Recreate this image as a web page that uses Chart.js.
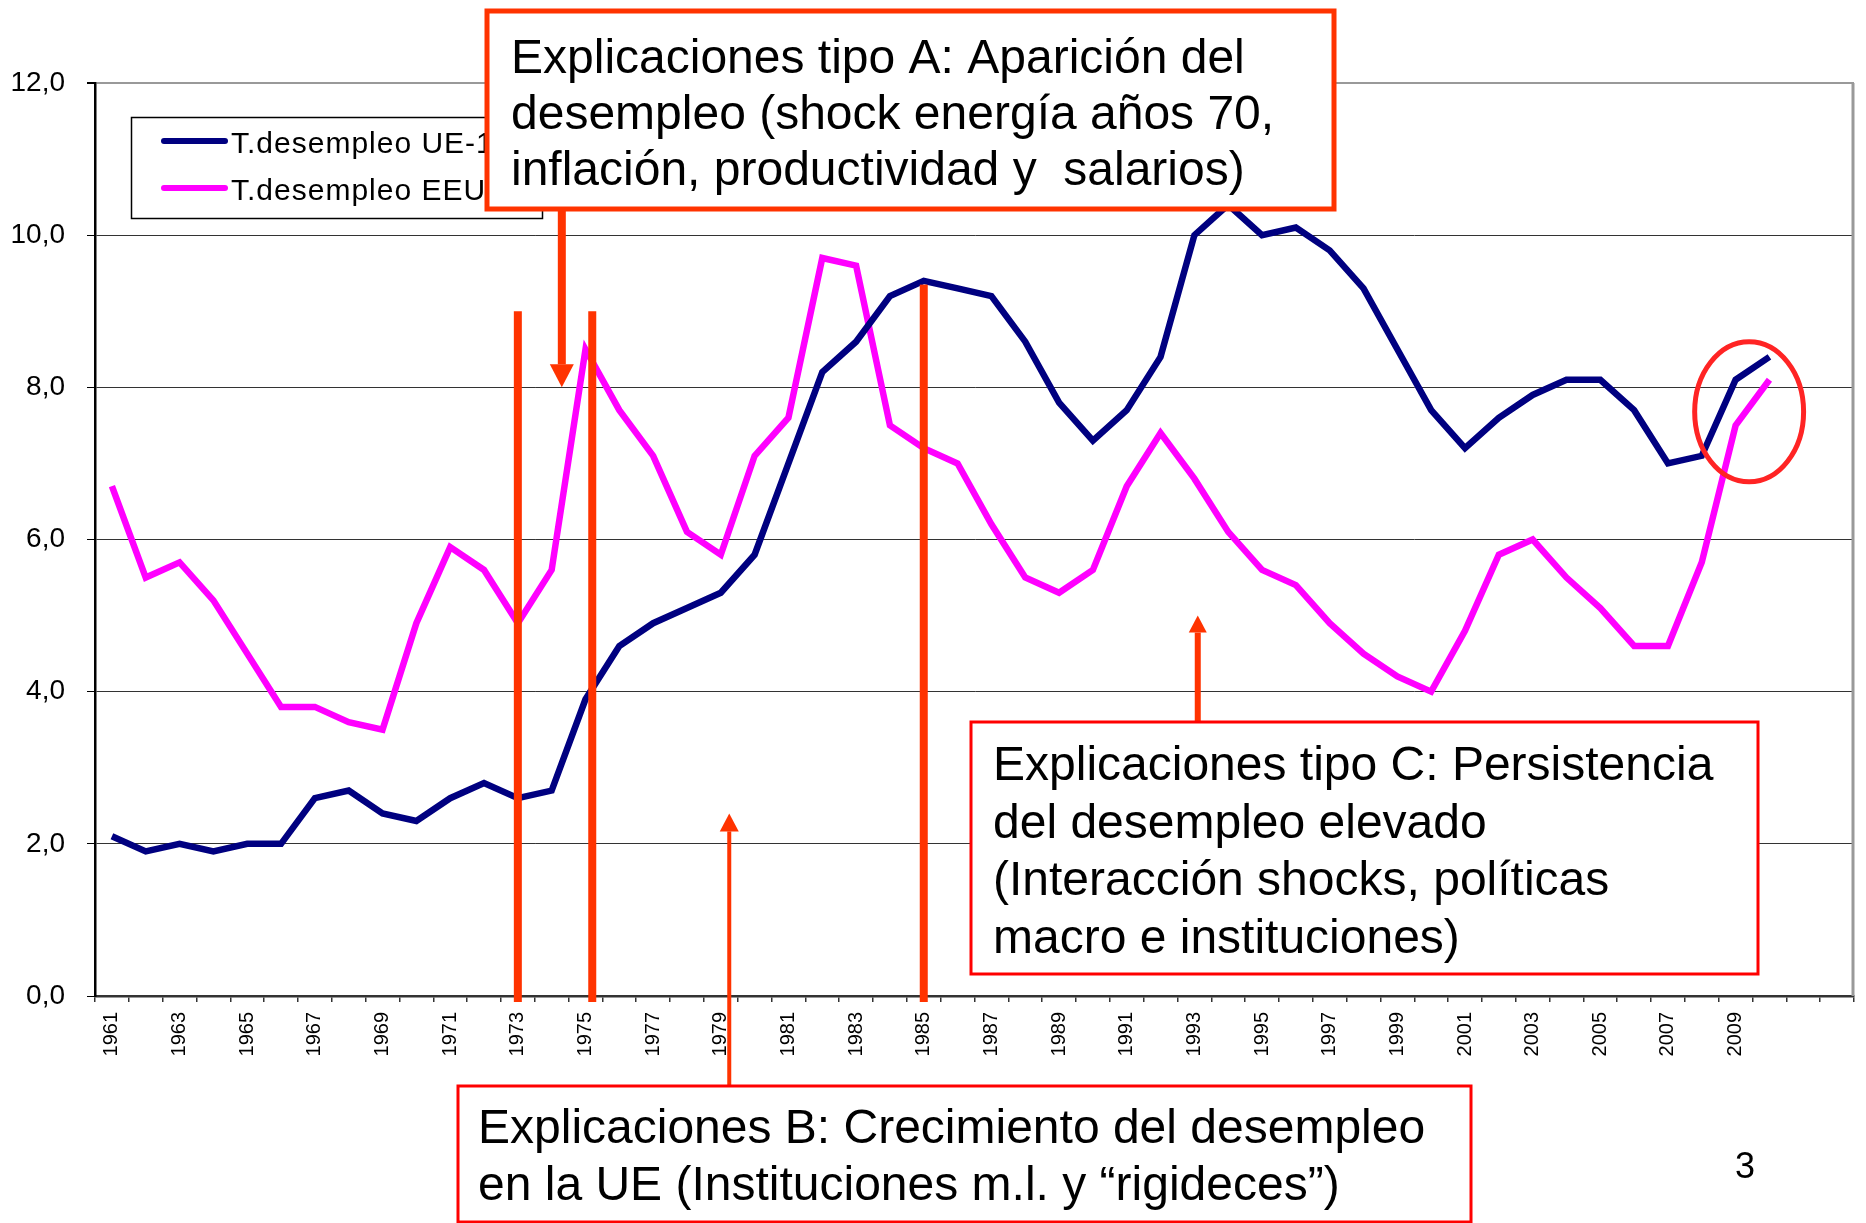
<!DOCTYPE html>
<html>
<head>
<meta charset="utf-8">
<script src="https://cdn.jsdelivr.net/npm/chart.js@4"></script>
<style>
  html, body { margin: 0; padding: 0; background: #fff; }
  canvas { display: block; }
</style>
</head>
<body>
<canvas id="paroChart" width="1866" height="1223"></canvas>
<script>
// categories (the axis runs two empty years past the data, as in the original sheet)
const years = [1961, 1962, 1963, 1964, 1965, 1966, 1967, 1968, 1969, 1970,
  1971, 1972, 1973, 1974, 1975, 1976, 1977, 1978, 1979, 1980,
  1981, 1982, 1983, 1984, 1985, 1986, 1987, 1988, 1989, 1990,
  1991, 1992, 1993, 1994, 1995, 1996, 1997, 1998, 1999, 2000,
  2001, 2002, 2003, 2004, 2005, 2006, 2007, 2008, 2009, 2010,
  2011, 2012];

// T.desempleo UE-15
const paroUE = [2.1, 1.9, 2.0, 1.9, 2.0, 2.0, 2.6, 2.7, 2.4, 2.3,
  2.6, 2.8, 2.6, 2.7, 3.9, 4.6, 4.9, 5.1, 5.3, 5.8,
  7.0, 8.2, 8.6, 9.2, 9.4, 9.3, 9.2, 8.6, 7.8, 7.3,
  7.7, 8.4, 10.0, 10.4, 10.0, 10.1, 9.8, 9.3, 8.5, 7.7,
  7.2, 7.6, 7.9, 8.1, 8.1, 7.7, 7.0, 7.1, 8.1, 8.4];

// T.desempleo EEUU
const paroEEUU = [6.7, 5.5, 5.7, 5.2, 4.5, 3.8, 3.8, 3.6, 3.5, 4.9,
  5.9, 5.6, 4.9, 5.6, 8.5, 7.7, 7.1, 6.1, 5.8, 7.1,
  7.6, 9.7, 9.6, 7.5, 7.2, 7.0, 6.2, 5.5, 5.3, 5.6,
  6.7, 7.4, 6.8, 6.1, 5.6, 5.4, 4.9, 4.5, 4.2, 4.0,
  4.8, 5.8, 6.0, 5.5, 5.1, 4.6, 4.6, 5.7, 7.5, 8.1];

const yMin = 0, yMax = 12, yStep = 2;
const lastLabelYear = 2009;

// annotations: years / values go through the scales
const markerLines = [
  { year: 1973, top: 9.0 },
  { year: 1975.2, top: 9.0 },
  { year: 1985, top: 9.35 }
];

const FONT = '"Liberation Sans", Arial, sans-serif';
const ORANGE = '#ff3300';
const RED = '#ff0000';

const boxes = [
  { x: 487, y: 11, w: 847, h: 198, border: ORANGE, lw: 5, textX: 511, base: 73, lh: 56,
    lines: ['Explicaciones tipo A: Aparición del',
            'desempleo (shock energía años 70,',
            'inflación, productividad y  salarios)'] },
  { x: 971, y: 722, w: 787, h: 252, border: RED, lw: 3, textX: 993, base: 780, lh: 57.5,
    lines: ['Explicaciones tipo C: Persistencia',
            'del desempleo elevado',
            '(Interacción shocks, políticas',
            'macro e instituciones)'] },
  { x: 458, y: 1086, w: 1013, h: 136, border: RED, lw: 3, textX: 478, base: 1143, lh: 57,
    lines: ['Explicaciones B: Crecimiento del desempleo',
            'en la UE (Instituciones m.l. y “rigideces”)'] }
];

const arrows = [
  { year: 1974.3, fromPx: 209, to: 8.0, shaft: 8, headW: 24, headL: 23 },
  { year: 1979.25, fromPx: 1086, to: 2.4, shaft: 4, headW: 19, headL: 18 },
  { year: 1993.1, fromPx: 722, to: 5.0, shaft: 6, headW: 18, headL: 17 }
];

const ellipse = { year: 2009.4, value: 7.68, rYears: 1.61, rValue: 0.92 };

function drawArrow(ctx, x, yFrom, yTo, a) {
  const dir = yTo > yFrom ? 1 : -1;
  const baseY = yTo - dir * a.headL;
  ctx.fillStyle = ORANGE;
  ctx.fillRect(x - a.shaft / 2, Math.min(yFrom, baseY), a.shaft, Math.abs(baseY - yFrom));
  ctx.beginPath();
  ctx.moveTo(x - a.headW / 2, baseY);
  ctx.lineTo(x + a.headW / 2, baseY);
  ctx.lineTo(x, yTo);
  ctx.closePath();
  ctx.fill();
}

const slideExtras = {
  id: 'slideExtras',
  beforeDatasetsDraw(chart) {
    const { ctx, chartArea: ca } = chart;
    // plot area right border (grey, like Excel)
    ctx.save();
    ctx.strokeStyle = '#999';
    ctx.lineWidth = 3;
    ctx.beginPath();
    ctx.moveTo(ca.right - 1, ca.top);
    ctx.lineTo(ca.right - 1, ca.bottom);
    ctx.stroke();
    ctx.restore();
  },
  afterDatasetsDraw(chart) {
    const { ctx, scales: { x, y }, chartArea: ca } = chart;
    const px = yr => x.getPixelForValue(yr - years[0]);
    ctx.save();

    // legend box inside the plot
    ctx.fillStyle = '#fff';
    ctx.fillRect(131, 117, 412, 102);
    ctx.strokeStyle = '#000';
    ctx.lineWidth = 1.5;
    ctx.strokeRect(131.5, 117.5, 411, 101);
    ctx.font = '30px ' + FONT;
    ctx.textBaseline = 'alphabetic';
    ctx.textAlign = 'left';
    if ('letterSpacing' in ctx) ctx.letterSpacing = '1px';
    chart.data.datasets.forEach((ds, i) => {
      const ly = 141 + i * 47;
      ctx.strokeStyle = ds.borderColor;
      ctx.lineWidth = 6;
      ctx.lineCap = 'round';
      ctx.beginPath();
      ctx.moveTo(164, ly);
      ctx.lineTo(225, ly);
      ctx.stroke();
      ctx.fillStyle = '#000';
      ctx.fillText(ds.label, 231, ly + 12);
    });
    if ('letterSpacing' in ctx) ctx.letterSpacing = '0px';
    ctx.lineCap = 'butt';

    // thick vertical marker lines
    ctx.fillStyle = ORANGE;
    markerLines.forEach(m => {
      const xp = px(m.year);
      const top = y.getPixelForValue(m.top);
      ctx.fillRect(xp - 4, top, 8, ca.bottom + 6 - top);
    });

    // arrows
    arrows.forEach(a => drawArrow(ctx, px(a.year), a.fromPx, y.getPixelForValue(a.to), a));

    // ellipse round the last years
    const cx = px(ellipse.year), cy = y.getPixelForValue(ellipse.value);
    const rx = px(ellipse.year + ellipse.rYears) - cx;
    const ry = y.getPixelForValue(ellipse.value - ellipse.rValue) - cy;
    ctx.strokeStyle = '#ff2424';
    ctx.lineWidth = 5;
    ctx.beginPath();
    ctx.ellipse(cx, cy, rx, ry, 0, 0, Math.PI * 2);
    ctx.stroke();

    // text boxes
    boxes.forEach(b => {
      ctx.fillStyle = '#fff';
      ctx.fillRect(b.x, b.y, b.w, b.h);
      ctx.strokeStyle = b.border;
      ctx.lineWidth = b.lw;
      ctx.strokeRect(b.x, b.y, b.w, b.h);
      ctx.fillStyle = '#000';
      ctx.font = '48px ' + FONT;
      b.lines.forEach((t, i) => ctx.fillText(t, b.textX, b.base + i * b.lh));
    });

    // slide number
    ctx.font = '36px ' + FONT;
    ctx.fillText('3', 1735, 1178);
    ctx.restore();
  }
};

const ctx = document.getElementById('paroChart').getContext('2d');
new Chart(ctx, {
  type: 'line',
  data: {
    labels: years,
    datasets: [
      {
        label: 'T.desempleo UE-15',
        data: paroUE,
        borderColor: '#000080',
        borderWidth: 6.5,
        pointRadius: 0,
        tension: 0,
        fill: false
      },
      {
        label: 'T.desempleo EEUU',
        data: paroEEUU,
        borderColor: '#ff00ff',
        borderWidth: 6.5,
        pointRadius: 0,
        tension: 0,
        fill: false
      }
    ]
  },
  options: {
    responsive: false,
    animation: false,
    layout: { padding: { top: 83, right: 12, left: 0, bottom: 0 } },
    plugins: {
      legend: { display: false },
      tooltip: { enabled: false }
    },
    scales: {
      x: {
        offset: true,
        afterFit: s => { s.height = 227; s.paddingLeft = 0; s.paddingRight = 0; },
        grid: {
          offset: true,
          drawOnChartArea: false,
          drawTicks: true,
          tickLength: 6,
          tickColor: '#333',
          lineWidth: 1.5
        },
        border: { color: '#333', width: 2.5 },
        ticks: {
          autoSkip: false,
          maxRotation: 90,
          minRotation: 90,
          padding: 10,
          color: '#000',
          font: { family: FONT, size: 20 },
          callback: (v, i) => (i % 2 === 0 && years[i] <= lastLabelYear) ? String(years[i]) : ''
        }
      },
      y: {
        min: yMin,
        max: yMax,
        afterFit: s => { s.width = 95; s.paddingTop = 0; s.paddingBottom = 0; },
        grid: {
          color: c => c.tick && c.tick.value === yMax ? '#999' : '#333',
          lineWidth: c => c.tick && c.tick.value === yMax ? 2 : 1,
          tickLength: 8,
          tickColor: '#000'
        },
        border: { color: '#000', width: 2.5 },
        ticks: {
          stepSize: yStep,
          padding: 22,
          color: '#000',
          font: { family: FONT, size: 28 },
          callback: v => v.toFixed(1).replace('.', ',')
        }
      }
    }
  },
  plugins: [slideExtras]
});
</script>
</body>
</html>
